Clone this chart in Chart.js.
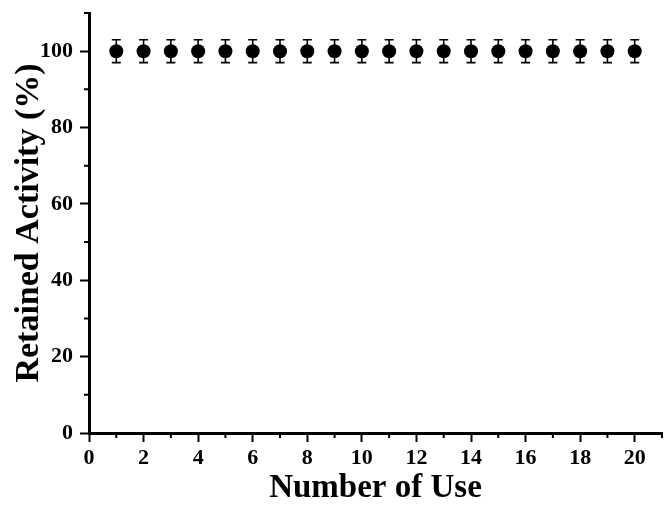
<!DOCTYPE html>
<html>
<head>
<meta charset="utf-8">
<script src="https://cdn.jsdelivr.net/npm/chart.js@4/dist/chart.umd.min.js"></script>
<style>
  html, body { margin: 0; padding: 0; background: #fff; }
  #wrap { width: 664px; height: 511px; position: relative; }
</style>
</head>
<body>
<div id="wrap"><canvas id="c"></canvas></div>
<script>
// Reuse cycles and the activity retained after each one
const uses = [1, 2, 3, 4, 5, 6, 7, 8, 9, 10, 11, 12, 13, 14, 15, 16, 17, 18, 19, 20];
const activity = [100, 100, 100, 100, 100, 100, 100, 100, 100, 100, 100, 100, 100, 100, 100, 100, 100, 100, 100, 100];
const activityErr = [3, 3, 3, 3, 3, 3, 3, 3, 3, 3, 3, 3, 3, 3, 3, 3, 3, 3, 3, 3];

const xMajorTicks = [0, 2, 4, 6, 8, 10, 12, 14, 16, 18, 20];
const xMinorTicks = [1, 3, 5, 7, 9, 11, 13, 15, 17, 19, 21];
const yMajorTicks = [0, 20, 40, 60, 80, 100];
const yMinorTicks = [10, 30, 50, 70, 90, 110];

const FONT = "'Liberation Serif', 'Times New Roman', serif";

// Vertical error bars with caps, drawn under the markers
const errorBars = {
  id: 'errorBars',
  beforeDatasetsDraw(chart) {
    const { ctx, scales: { x, y } } = chart;
    ctx.save();
    ctx.strokeStyle = '#000';
    ctx.lineWidth = 1.6;
    uses.forEach((u, i) => {
      const px = x.getPixelForValue(u);
      const top = y.getPixelForValue(activity[i] + activityErr[i]);
      const bot = y.getPixelForValue(activity[i] - activityErr[i]);
      ctx.beginPath();
      ctx.moveTo(px, top); ctx.lineTo(px, bot);
      ctx.moveTo(px - 4.5, top); ctx.lineTo(px + 4.5, top);
      ctx.moveTo(px - 4.5, bot); ctx.lineTo(px + 4.5, bot);
      ctx.stroke();
    });
    ctx.restore();
  }
};

// Short outward minor ticks on both axes
const minorTicks = {
  id: 'minorTicks',
  afterDraw(chart) {
    const { ctx, scales: { x, y } } = chart;
    const len = 5;
    ctx.save();
    ctx.strokeStyle = '#000';
    ctx.lineWidth = 2;
    ctx.beginPath();
    xMinorTicks.forEach(v => {
      const px = x.getPixelForValue(v);
      ctx.moveTo(px, x.top); ctx.lineTo(px, x.top + len);
    });
    yMinorTicks.forEach(v => {
      const py = y.getPixelForValue(v);
      ctx.moveTo(y.right, py); ctx.lineTo(y.right - len, py);
    });
    ctx.stroke();
    ctx.restore();
  }
};

new Chart(document.getElementById('c'), {
  type: 'scatter',
  data: {
    datasets: [{
      data: uses.map((u, i) => ({ x: u, y: activity[i] })),
      backgroundColor: '#000',
      borderColor: '#000',
      pointRadius: 7,
      pointHoverRadius: 7,
      pointBorderWidth: 0
    }]
  },
  options: {
    responsive: true,
    maintainAspectRatio: false,
    animation: false,
    layout: { autoPadding: false, padding: { top: 13, right: 2, left: 0, bottom: 0 } },
    plugins: { legend: { display: false }, tooltip: { enabled: false } },
    scales: {
      x: {
        type: 'linear',
        min: 0,
        max: 21,
        afterBuildTicks(scale) { scale.ticks = xMajorTicks.map(v => ({ value: v })); },
        afterFit(scale) { scale.height = 78; scale.paddingLeft = 0; scale.paddingRight = 0; },
        border: { display: true, color: '#000', width: 3 },
        grid: { drawOnChartArea: false, drawTicks: true, tickLength: 9, tickWidth: 2, tickColor: '#000' },
        ticks: {
          color: '#000',
          padding: 3,
          maxRotation: 0,
          autoSkip: false,
          font: { family: FONT, size: 22, weight: 'bold' }
        },
        title: {
          display: true,
          text: 'Number of Use',
          color: '#000',
          padding: { top: 0, bottom: 3 },
          font: { family: FONT, size: 33, weight: 'bold' }
        }
      },
      y: {
        type: 'linear',
        min: 0,
        max: 110,
        afterBuildTicks(scale) { scale.ticks = yMajorTicks.map(v => ({ value: v })); },
        afterFit(scale) { scale.width = 89; scale.paddingTop = 0; scale.paddingBottom = 0; },
        border: { display: true, color: '#000', width: 3 },
        grid: { drawOnChartArea: false, drawTicks: true, tickLength: 9, tickWidth: 2, tickColor: '#000' },
        ticks: {
          color: '#000',
          padding: 7,
          autoSkip: false,
          font: { family: FONT, size: 22, weight: 'bold' }
        },
        title: {
          display: true,
          text: 'Retained Activity (%)',
          color: '#000',
          padding: { top: 9, bottom: 0 },
          font: { family: FONT, size: 34, weight: 'bold' }
        }
      }
    }
  },
  plugins: [errorBars, minorTicks]
});
</script>
</body>
</html>
